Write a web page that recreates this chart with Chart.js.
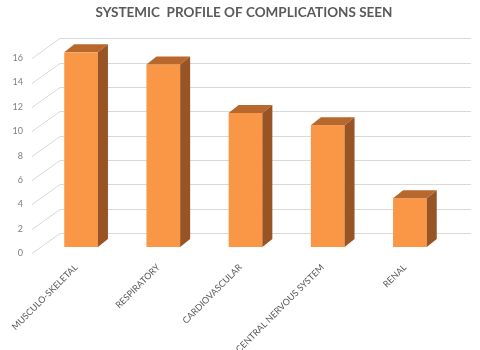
<!DOCTYPE html>
<html>
<head>
<meta charset="utf-8">
<script src="https://cdn.jsdelivr.net/npm/chart.js@4.4.1/dist/chart.umd.min.js"></script>
<style>
  html, body { margin: 0; padding: 0; background: #fff; }
  #wrap { width: 480px; height: 350px; }
</style>
</head>
<body>
<div id="wrap"><canvas id="chart"></canvas></div>
<script>
const categories = ["MUSCULO-SKELETAL", "RESPIRATORY", "CARDIOVASCULAR", "CENTRAL NERVOUS SYSTEM", "RENAL"];
const complications = [16, 15, 11, 10, 4];
const yTicks = [0, 2, 4, 6, 8, 10, 12, 14, 16];

// fake 3D geometry, in px
const DEPTH_X = 10, DEPTH_Y = 8;   // bar depth
const WALL_X = 20, WALL_Y = 14;    // back wall behind the bar plane
const FRONT_X = 8, FRONT_Y = 6;    // front edge ahead of the bar plane

const FRONT_COLOR = "#f99746";
const TOP_COLOR = "#b8682c";
const SIDE_COLOR = "#985424";

const threeD = {
  id: "threeD",
  beforeDatasetsDraw(chart) {
    const { ctx, chartArea, scales: { y } } = chart;
    ctx.save();
    ctx.strokeStyle = "#d9d9d9";
    ctx.lineWidth = 1;
    yTicks.forEach(v => {
      const py = Math.round(y.getPixelForValue(v)) + 0.5;
      ctx.beginPath();
      ctx.moveTo(chartArea.left - FRONT_X, py + FRONT_Y);
      ctx.lineTo(chartArea.left + WALL_X, py - WALL_Y);
      ctx.lineTo(chartArea.right + WALL_X, py - WALL_Y);
      ctx.stroke();
    });
    ctx.restore();
  },
  afterDatasetsDraw(chart) {
    const { ctx } = chart;
    const meta = chart.getDatasetMeta(0);
    ctx.save();
    meta.data.forEach(bar => {
      const { x, y, base, width } = bar.getProps(["x", "y", "base", "width"], true);
      const l = x - width / 2, r = x + width / 2;
      // top face
      ctx.fillStyle = TOP_COLOR;
      ctx.beginPath();
      ctx.moveTo(l, y);
      ctx.lineTo(r, y);
      ctx.lineTo(r + DEPTH_X, y - DEPTH_Y);
      ctx.lineTo(l + DEPTH_X, y - DEPTH_Y);
      ctx.closePath();
      ctx.fill();
      // side face
      ctx.fillStyle = SIDE_COLOR;
      ctx.beginPath();
      ctx.moveTo(r, y);
      ctx.lineTo(r + DEPTH_X, y - DEPTH_Y);
      ctx.lineTo(r + DEPTH_X, base - DEPTH_Y);
      ctx.lineTo(r, base);
      ctx.closePath();
      ctx.fill();
    });
    ctx.restore();
  }
};

new Chart(document.getElementById("chart"), {
  type: "bar",
  data: {
    labels: categories,
    datasets: [{
      data: complications,
      backgroundColor: FRONT_COLOR,
      borderWidth: 0,
      categoryPercentage: 1,
      barPercentage: 0.41
    }]
  },
  options: {
    responsive: true,
    maintainAspectRatio: false,
    animation: false,
    layout: { padding: { left: 8, right: 0, top: 0, bottom: 0 } },
    plugins: {
      legend: { display: false },
      tooltip: { enabled: false },
      title: {
        display: true,
        text: "SYSTEMIC  PROFILE OF COMPLICATIONS SEEN",
        color: "#595959",
        font: { family: "Lato", size: 13.5, weight: "bold" },
        padding: { top: 5, bottom: 31 }
      }
    },
    scales: {
      x: {
        grid: { display: false },
        border: { display: false },
        ticks: {
          color: "#595959",
          font: { family: "Lato", size: 9 },
          autoSkip: false,
          minRotation: 45,
          maxRotation: 45,
          padding: 7,
          labelOffset: -5
        },
        afterFit(scale) { scale.height = 103; }
      },
      y: {
        min: 0,
        max: 16,
        grid: { display: false, drawTicks: false },
        border: { display: false },
        ticks: {
          stepSize: 2,
          color: "#7f7f7f",
          font: { family: "Lato", size: 9 },
          padding: 17,
          labelOffset: FRONT_Y
        },
        afterFit(scale) { scale.width = 32; }
      },
      // empty right-hand axis, only reserves room for the back wall
      yRight: {
        position: "right",
        display: true,
        grid: { display: false, drawTicks: false },
        border: { display: false },
        ticks: { display: false },
        afterFit(scale) { scale.width = 29; }
      }
    }
  },
  plugins: [threeD]
});
</script>
</body>
</html>
